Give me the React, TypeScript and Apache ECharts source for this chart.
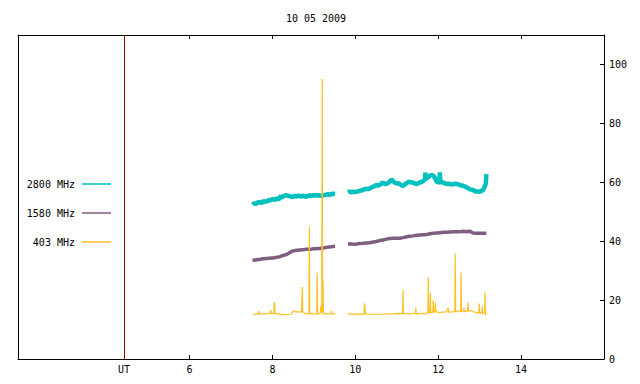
import React, { useEffect, useRef } from "react";
import * as echarts from "echarts";

const TITLE = "10 05 2009";
const X_TICKS = [6, 8, 10, 12, 14];
const Y_LABELS = [0, 20, 40, 60, 80, 100];
const Y_TICKS = [20, 40, 60, 80, 100];
const UT_HOUR = 4.42;

const LEGEND_NAMES = ["2800 MHz", "1580 MHz", "403 MHz"];
const COLORS = ["#00c0c0", "#7f5f80", "#ffc020"];

// 2800 MHz [UT hour, flux]
const cyanSeg1: [number, number][] = [
  [7.52, 52.4], [7.56, 52.9], [7.6, 52.6], [7.65, 53.2], [7.7, 53.2], [7.74, 53.0], [7.78, 53.6],
  [7.82, 53.4], [7.86, 53.5], [7.9, 53.9], [7.94, 53.8], [7.98, 54.2], [8.02, 54.2], [8.06, 54.0],
  [8.1, 54.5], [8.14, 54.3], [8.18, 54.5], [8.2, 55.6], [8.22, 54.7], [8.26, 55.3], [8.3, 55.5],
  [8.34, 55.6], [8.38, 55.4], [8.42, 55.3], [8.46, 55.0], [8.5, 55.1], [8.54, 55.4], [8.58, 55.1],
  [8.62, 55.5], [8.66, 55.3], [8.7, 55.2], [8.74, 55.5], [8.78, 55.1], [8.82, 55.1], [8.86, 55.4],
  [8.9, 55.6], [8.94, 55.3], [8.98, 55.6], [9.02, 55.5], [9.06, 55.7], [9.1, 55.4], [9.14, 55.6],
  [9.18, 55.3], [9.22, 55.6], [9.26, 55.7], [9.3, 55.8], [9.34, 56.0], [9.38, 55.7], [9.42, 56.0],
  [9.46, 56.1], [9.51, 56.0],
];
const cyanSeg2: [number, number][] = [
  [9.82, 56.6], [9.86, 56.9], [9.9, 56.6], [9.95, 56.8], [10.0, 56.7], [10.03, 56.8], [10.08, 57.0],
  [10.12, 57.1], [10.16, 57.3], [10.19, 57.4], [10.23, 57.7], [10.27, 57.8], [10.31, 57.7],
  [10.35, 57.9], [10.39, 58.3], [10.43, 58.5], [10.47, 58.7], [10.51, 59.1], [10.55, 58.9],
  [10.59, 59.1], [10.63, 59.6], [10.67, 59.9], [10.71, 59.4], [10.75, 59.4], [10.79, 59.8],
  [10.83, 60.2], [10.87, 61.0], [10.91, 60.4], [10.95, 59.9], [11.0, 59.6], [11.04, 59.7],
  [11.07, 59.4], [11.11, 59.0], [11.15, 58.7], [11.2, 59.3], [11.24, 59.7], [11.28, 60.1],
  [11.31, 60.2], [11.35, 59.9], [11.39, 59.9], [11.44, 59.6], [11.48, 59.4], [11.52, 59.7],
  [11.56, 60.0], [11.6, 60.1], [11.64, 60.4], [11.68, 61.0], [11.69, 63.3], [11.7, 61.2],
  [11.73, 61.4], [11.76, 61.7], [11.8, 62.2], [11.84, 62.5], [11.88, 62.3], [11.92, 61.5],
  [11.96, 60.2], [12.0, 60.0], [12.03, 60.1], [12.04, 63.4], [12.05, 60.1], [12.1, 60.0],
  [12.15, 59.7], [12.2, 59.4], [12.25, 59.6], [12.3, 59.3], [12.36, 59.3], [12.4, 59.5],
  [12.44, 59.4], [12.48, 59.3], [12.52, 59.1], [12.56, 58.9], [12.6, 58.8], [12.64, 58.6],
  [12.68, 58.3], [12.72, 58.0], [12.76, 57.6], [12.8, 57.5], [12.84, 57.4], [12.88, 57.0],
  [12.92, 56.8], [12.96, 56.9], [13.0, 56.8], [13.04, 57.0], [13.08, 57.4], [13.12, 58.5],
  [13.15, 59.7], [13.16, 62.8],
];

// 1580 MHz
const purpleSeg1: [number, number][] = [
  [7.52, 33.4], [7.56, 33.6], [7.6, 33.6], [7.65, 33.8], [7.7, 33.8], [7.75, 34.0], [7.8, 34.0],
  [7.86, 34.1], [7.92, 34.2], [7.98, 34.3], [8.02, 34.3], [8.08, 34.5], [8.14, 34.6], [8.18, 34.7],
  [8.22, 35.0], [8.28, 35.2], [8.34, 35.5], [8.38, 35.8], [8.42, 36.1], [8.46, 36.5], [8.5, 36.7],
  [8.54, 36.8], [8.6, 36.9], [8.66, 37.0], [8.72, 37.1], [8.78, 37.2], [8.82, 37.3], [8.88, 37.3],
  [8.94, 37.3], [8.98, 37.4], [9.04, 37.4], [9.1, 37.5], [9.14, 37.5], [9.2, 37.7], [9.26, 37.8],
  [9.3, 37.9], [9.36, 38.0], [9.42, 38.1], [9.46, 38.2], [9.51, 38.3],
];
const purpleSeg2: [number, number][] = [
  [9.82, 39.0], [9.88, 39.1], [9.94, 39.0], [10.03, 39.05], [10.1, 39.2], [10.19, 39.3],
  [10.26, 39.4], [10.34, 39.5], [10.43, 39.7], [10.5, 39.9], [10.59, 40.2], [10.67, 40.4],
  [10.75, 40.7], [10.83, 40.9], [10.91, 41.0], [11.0, 41.0], [11.07, 41.0], [11.15, 41.2],
  [11.24, 41.5], [11.31, 41.7], [11.39, 41.8], [11.48, 42.0], [11.56, 42.1], [11.64, 42.2],
  [11.72, 42.3], [11.8, 42.5], [11.88, 42.7], [11.96, 42.8], [12.04, 42.9], [12.12, 43.0],
  [12.2, 43.0], [12.28, 43.1], [12.36, 43.2], [12.44, 43.2], [12.52, 43.2], [12.6, 43.4],
  [12.68, 43.2], [12.76, 43.4], [12.84, 42.8], [12.92, 42.7], [13.0, 42.7], [13.08, 42.7],
  [13.16, 42.7],
];

// 403 MHz
const yellowSeg1: [number, number][] = [
  [7.53, 15.3], [7.58, 15.0], [7.62, 15.4], [7.67, 15.3], [7.68, 16.3], [7.69, 15.3], [7.8, 15.3],
  [7.9, 15.4], [7.95, 15.5], [7.96, 16.6], [7.97, 15.5], [8.03, 15.4], [8.04, 18.8], [8.05, 19.3],
  [8.06, 15.4], [8.15, 15.3], [8.25, 15.0], [8.35, 15.1], [8.45, 15.2], [8.52, 16.4], [8.55, 16.0],
  [8.7, 16.0], [8.72, 24.4], [8.73, 16.0], [8.78, 15.4], [8.88, 15.3], [8.89, 44.9], [8.9, 15.3],
  [8.95, 15.5], [9.0, 15.2], [9.07, 15.3], [9.08, 29.3], [9.09, 15.3], [9.15, 15.4], [9.17, 18.0],
  [9.18, 15.8], [9.19, 19.5], [9.2, 95.1], [9.21, 15.5], [9.22, 26.5], [9.23, 15.3], [9.3, 15.3],
  [9.41, 15.3], [9.42, 16.3], [9.43, 15.3], [9.51, 15.3],
];
const yellowSeg2: [number, number][] = [
  [9.83, 15.2], [9.84, 15.6], [9.85, 15.2], [9.95, 15.3], [10.05, 15.2], [10.15, 15.3],
  [10.21, 15.2], [10.22, 18.9], [10.23, 17.8], [10.24, 15.3], [10.4, 15.2], [10.6, 15.2],
  [10.8, 15.3], [10.95, 15.4], [11.05, 15.5], [11.14, 15.4], [11.15, 23.4], [11.16, 15.4],
  [11.3, 15.3], [11.45, 15.5], [11.46, 17.5], [11.47, 15.4], [11.6, 15.4], [11.7, 15.3],
  [11.75, 15.8], [11.76, 27.8], [11.77, 15.6], [11.8, 15.7], [11.81, 22.4], [11.82, 15.8],
  [11.87, 15.9], [11.88, 20.0], [11.89, 15.8], [11.92, 16.0], [11.93, 19.0], [11.94, 16.4],
  [12.0, 15.7], [12.1, 15.9], [12.2, 16.0], [12.24, 17.5], [12.25, 15.9], [12.35, 16.0],
  [12.4, 16.2], [12.41, 35.8], [12.42, 16.0], [12.48, 16.3], [12.54, 16.0], [12.55, 29.3],
  [12.56, 16.2], [12.61, 16.3], [12.62, 17.5], [12.63, 16.0], [12.71, 16.5], [12.72, 19.3],
  [12.73, 16.2], [12.8, 16.4], [12.9, 15.8], [12.98, 15.6], [12.99, 18.8], [13.0, 15.6],
  [13.05, 15.8], [13.06, 18.1], [13.07, 15.5], [13.12, 15.6], [13.13, 22.7], [13.14, 15.2],
  [13.16, 14.8],
];

const GAP_HOUR = 9.67;
const FONT = "DejaVu Sans Mono";

function joinSegs(a: [number, number][], b: [number, number][]) {
  return [...a, [GAP_HOUR, "-"], ...b];
}

export default function App() {
  const ref = useRef<HTMLDivElement>(null);
  useEffect(() => {
    if (!ref.current) return;
    const chart = echarts.init(ref.current, undefined, { renderer: "svg" });
    const textStyle = { fontFamily: FONT, fontSize: 10, color: "#000" };
    const legendGraphics: any[] = [];
    LEGEND_NAMES.forEach((name, i) => {
      const y = 184 + i * 29;
      legendGraphics.push({
        type: "text",
        x: 75,
        y,
        style: { text: name, fill: "#000", font: `10px ${FONT}`, align: "right", verticalAlign: "middle" },
      });
      legendGraphics.push({
        type: "line",
        shape: { x1: 82, y1: y, x2: 111, y2: y },
        style: { stroke: COLORS[i], lineWidth: 1.5 },
      });
    });
    chart.setOption({
      animation: false,
      title: {
        text: TITLE,
        left: 311,
        top: 8,
        textAlign: "center",
        textStyle: { fontFamily: FONT, fontSize: 10, fontWeight: "normal", color: "#000" },
      },
      grid: { left: 18, right: 36, top: 35, bottom: 25 },
      xAxis: [
        {
          type: "value",
          min: 1.86,
          max: 16,
          position: "bottom",
          axisLine: { show: true, onZero: false, lineStyle: { color: "#000", width: 1 } },
          axisTick: { show: true, inside: true, length: 4, customValues: X_TICKS, lineStyle: { color: "#000" } },
          axisLabel: { show: true, customValues: X_TICKS, margin: 5, ...textStyle },
          splitLine: { show: false },
        },
        {
          type: "value",
          min: 1.86,
          max: 16,
          position: "top",
          axisLine: { show: true, onZero: false, lineStyle: { color: "#000", width: 1 } },
          axisTick: { show: true, inside: true, length: 4, customValues: X_TICKS, lineStyle: { color: "#000" } },
          axisLabel: { show: false },
          splitLine: { show: false },
        },
      ],
      yAxis: [
        {
          type: "value",
          min: 0,
          max: 110,
          position: "right",
          axisLine: { show: true, onZero: false, lineStyle: { color: "#000", width: 1 } },
          axisTick: { show: true, inside: true, length: 4, customValues: Y_TICKS, lineStyle: { color: "#000" } },
          axisLabel: { show: true, customValues: Y_LABELS, margin: 5, ...textStyle },
          splitLine: { show: false },
        },
        {
          type: "value",
          min: 0,
          max: 110,
          position: "left",
          axisLine: { show: true, onZero: false, lineStyle: { color: "#000", width: 1 } },
          axisTick: { show: false },
          axisLabel: { show: false },
          splitLine: { show: false },
        },
      ],
      graphic: legendGraphics,
      series: [
        {
          name: LEGEND_NAMES[0],
          type: "line",
          data: joinSegs(cyanSeg1, cyanSeg2),
          showSymbol: false,
          symbol: "none",
          lineStyle: { color: COLORS[0], width: 4.5 },
          markLine: {
            silent: true,
            symbol: "none",
            lineStyle: { color: "#a00000", width: 1, type: "solid" },
            label: { show: true, position: "start", formatter: "UT", distance: 5, ...textStyle },
            data: [{ xAxis: UT_HOUR }],
          },
        },
        {
          name: LEGEND_NAMES[1],
          type: "line",
          data: joinSegs(purpleSeg1, purpleSeg2),
          showSymbol: false,
          symbol: "none",
          lineStyle: { color: COLORS[1], width: 3.5 },
        },
        {
          name: LEGEND_NAMES[2],
          type: "line",
          data: joinSegs(yellowSeg1, yellowSeg2),
          showSymbol: false,
          symbol: "none",
          lineStyle: { color: COLORS[2], width: 1.2 },
        },
      ],
    });
    return () => chart.dispose();
  }, []);
  return (
    <div
      ref={ref}
      style={{ position: "fixed", left: 0, top: 0, width: 640, height: 384, background: "#fff" }}
    />
  );
}
